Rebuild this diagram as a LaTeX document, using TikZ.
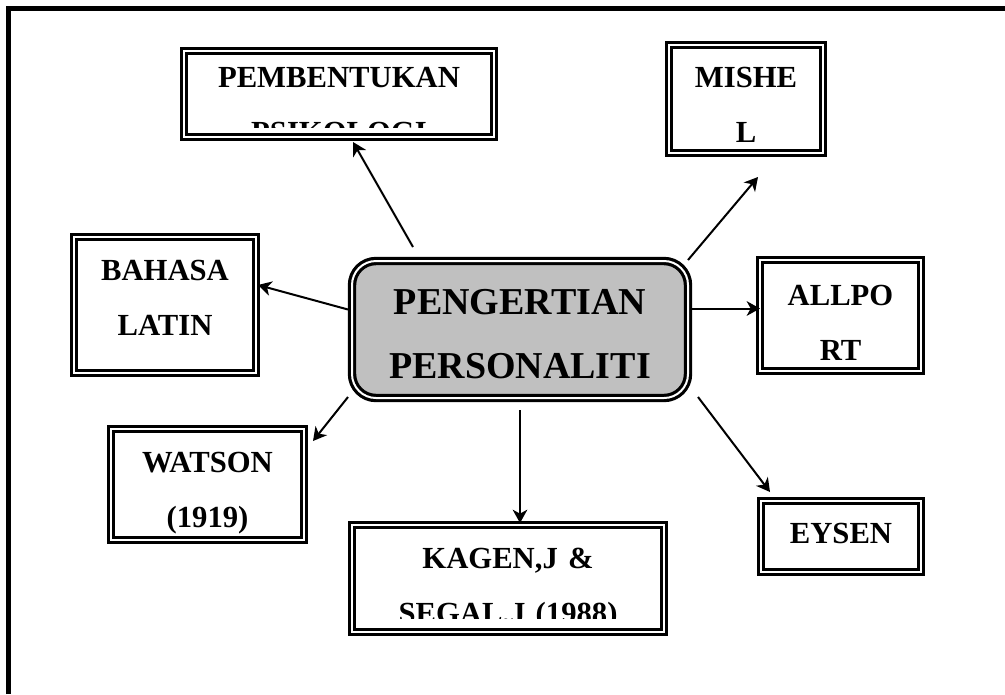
\documentclass[tikz,border=0pt]{standalone}
\usepackage{fontspec}
\setmainfont{Liberation Serif}
\usetikzlibrary{calc}
\usetikzlibrary{arrows.meta}
\definecolor{boxgray}{RGB}{192,192,192}

\begin{document}
\begin{tikzpicture}[x=0.75pt,y=-0.75pt,
	frame/.style={line width=2.2pt,double,double distance=1.5pt},
	box/.style={draw,frame,anchor=north west,inner sep=0pt,outer sep=0pt,align=center,font=\fontsize{23}{41.25}\selectfont\bfseries},
	boxtext/.style={box,draw=none},
	arr/.style={line width=1.5pt,-{Stealth[length=10pt,width=11pt,inset=3pt]}}]
	\useasboundingbox (0,0) rectangle (1005,694);
	%FRAME
	\draw[line width=3.75pt] (8.5,694)--(8.5,8.5)--(1005,8.5);	%only left and top show
	
	%CENTRE
	\node[box,fill=boxgray,rounded corners=18pt,line width=2.4pt,text width=252pt,text height=39.75pt,text depth=63pt,font=\fontsize{28.5}{48}\selectfont\bfseries] (cent) at (352,261) {PENGERTIAN\\PERSONALITI};
	
	%BOXES
	\begin{scope}
		\clip (184,51) rectangle (494,127);		%text cut at the bottom
		\node[boxtext,text width=232.5pt,text height=27pt,text depth=37.5pt] (psi) at (184,51) {PEMBENTUKAN\\PSIKOLOGI};
	\end{scope}
	\draw[frame] (psi.north west) rectangle (psi.south east);
	\node[box,text width=115.5pt,text height=31.5pt,text depth=49.5pt] (mis) at (669,45) {MISHE\\L};
	\node[box,text width=136.5pt,text height=32.25pt,text depth=69.75pt] (lat) at (74,237) {BAHASA\\LATIN};
	\node[box,text width=120.75pt,text height=33.75pt,text depth=49.5pt] (all) at (760,260) {ALLPO\\RT};
	\node[box,text width=144.75pt,text height=32.25pt,text depth=51pt] (wat) at (111,429) {WATSON\\(1919)};
	\begin{scope}
		\clip (352,525) rectangle (664,618);		%text cut at the bottom
		\node[boxtext,text width=234pt,text height=32.25pt,text depth=48pt] (kag) at (352,525) {KAGEN,J \&\\SEGAL,J (1988)};
	\end{scope}
	\draw[frame] (kag.north west) rectangle (kag.south east);
	\node[box,text width=120pt,text height=31.5pt,text depth=21.75pt] (eys) at (761,501) {EYSEN};
	
	%ARROWS
	\draw[arr] ($(cent.north west)+(61,-14)$)--($(psi.south)+(14,5)$);
	\draw[arr] ($(cent.north east)+(0,-1)$)--($(mis.south)+(12,24)$);
	\draw[arr] ($(cent.west)+(-4,-20)$)--($(lat.east)+(2,-20)$);
	\draw[arr] ($(cent.east)+(4,-21)$)--($(all.west)+(0,-7)$);
	\draw[arr] ($(cent.south west)+(-4,-1)$)--($(wat.north east)+(9,12)$);
	\draw[arr] ($(cent.south)+(0,12)$)--($(kag.north)+(12,-2)$);
	\draw[arr] ($(cent.south east)+(10,-1)$)--($(eys.north west)+(9,-9)$);
\end{tikzpicture}
\end{document}
